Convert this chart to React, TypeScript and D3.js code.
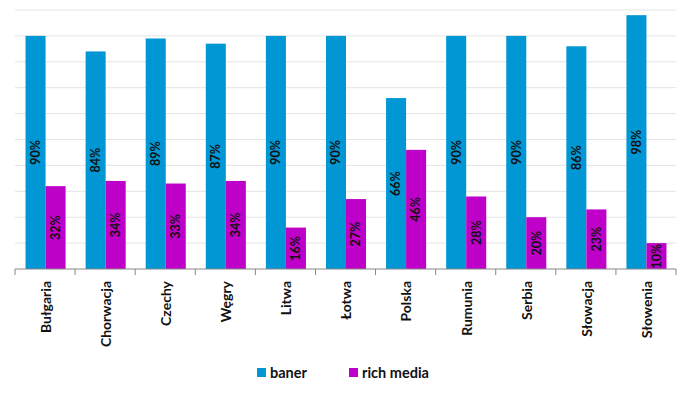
import React, { useEffect, useRef } from 'react'
import * as d3 from 'd3'

const categories = ['Bułgaria', 'Chorwacja', 'Czechy', 'Węgry', 'Litwa', 'Łotwa', 'Polska', 'Rumunia', 'Serbia', 'Słowacja', 'Słowenia']
const series = ['baner', 'rich media']
const banerValues = [90, 84, 89, 87, 90, 90, 66, 90, 90, 86, 98]
const richMediaValues = [32, 34, 33, 34, 16, 27, 46, 28, 20, 23, 10]
const colors = ['#0097d4', '#bf00c9']

const width = 691
const height = 398

export default function App() {
  const svgRef = useRef<SVGSVGElement>(null)

  useEffect(() => {
    if (!svgRef.current) return
    const svg = d3.select(svgRef.current)
    svg.selectAll('*').remove()

    const margin = { top: 10, right: 15, bottom: 129, left: 15 }
    const plotBottom = height - margin.bottom
    const font = 'Lato, "Open Sans", sans-serif'

    // Scales
    const x0 = d3.scaleBand().domain(categories).range([margin.left, width - margin.right]).padding(0)
    const x1 = d3.scaleBand().domain(series).range([0, x0.step()]).paddingInner(0).paddingOuter(0.5)
    const y = d3.scaleLinear().domain([0, 100]).range([plotBottom, margin.top])

    // Gridlines
    svg
      .append('g')
      .selectAll('line')
      .data(y.ticks(10).filter((t) => t > 0))
      .join('line')
      .attr('x1', margin.left)
      .attr('x2', width - margin.right)
      .attr('y1', (d) => y(d))
      .attr('y2', (d) => y(d))
      .attr('stroke', '#e4e4e4')
      .attr('stroke-width', 1)

    const rows = categories.map((c, i) => ({ c, vals: [banerValues[i], richMediaValues[i]] }))

    // Bars
    const groups = svg
      .append('g')
      .selectAll('g')
      .data(rows)
      .join('g')
      .attr('transform', (d) => `translate(${(x0(d.c) || 0) + 0.5},0)`)

    groups
      .selectAll('rect')
      .data((d) => d.vals.map((v, j) => ({ s: series[j], v, j })))
      .join('rect')
      .attr('x', (d) => x1(d.s) || 0)
      .attr('y', (d) => y(d.v))
      .attr('width', x1.bandwidth())
      .attr('height', (d) => plotBottom - y(d.v))
      .attr('fill', (d) => colors[d.j])

    // Value labels
    groups
      .selectAll('text')
      .data((d) => d.vals.map((v, j) => ({ s: series[j], v, j })))
      .join('text')
      .attr('transform', (d) => {
        const cx = (x1(d.s) || 0) + x1.bandwidth() / 2
        const cy = (y(d.v) + plotBottom) / 2
        return `translate(${cx},${cy}) rotate(-90)`
      })
      .attr('text-anchor', 'middle')
      .attr('dy', '0.35em')
      .attr('font-family', font)
      .attr('font-weight', 'bold')
      .attr('font-size', 12.5)
      .attr('fill', '#111')
      .text((d) => `${d.v}%`)

    // X axis
    const axis = svg.append('g')
    axis
      .append('line')
      .attr('x1', margin.left)
      .attr('x2', width - margin.right)
      .attr('y1', plotBottom)
      .attr('y2', plotBottom)
      .attr('stroke', '#868686')
    const tickXs = categories.map((c) => x0(c) || 0).concat([width - margin.right])
    axis
      .selectAll('line.tick')
      .data(tickXs)
      .join('line')
      .attr('class', 'tick')
      .attr('x1', (d) => d)
      .attr('x2', (d) => d)
      .attr('y1', plotBottom)
      .attr('y2', plotBottom + 6)
      .attr('stroke', '#868686')

    axis
      .selectAll('text')
      .data(categories)
      .join('text')
      .attr('transform', (d) => `translate(${(x0(d) || 0) + x0.bandwidth() / 2 + 1},${plotBottom + 12}) rotate(-90)`)
      .attr('text-anchor', 'end')
      .attr('dy', '0.35em')
      .attr('font-family', font)
      .attr('font-weight', 'bold')
      .attr('font-size', 14)
      .attr('fill', '#111')
      .text((d) => d)

    // Legend
    const legendX = [257, 349]
    const legend = svg
      .append('g')
      .selectAll('g')
      .data(series)
      .join('g')
      .attr('transform', (_, i) => `translate(${legendX[i]},368)`)
    legend.append('rect').attr('width', 9).attr('height', 9).attr('fill', (_, i) => colors[i])
    legend
      .append('text')
      .attr('x', 13)
      .attr('y', 9.5)
      .attr('font-family', font)
      .attr('font-weight', 'bold')
      .attr('font-size', 14.5)
      .attr('fill', '#111')
      .text((d) => d)
  }, [])

  return (
    <div style={{ position: 'absolute', left: 0, top: 0 }}>
      <svg ref={svgRef} width={width} height={height} style={{ display: 'block', background: '#fff' }}></svg>
    </div>
  )
}
